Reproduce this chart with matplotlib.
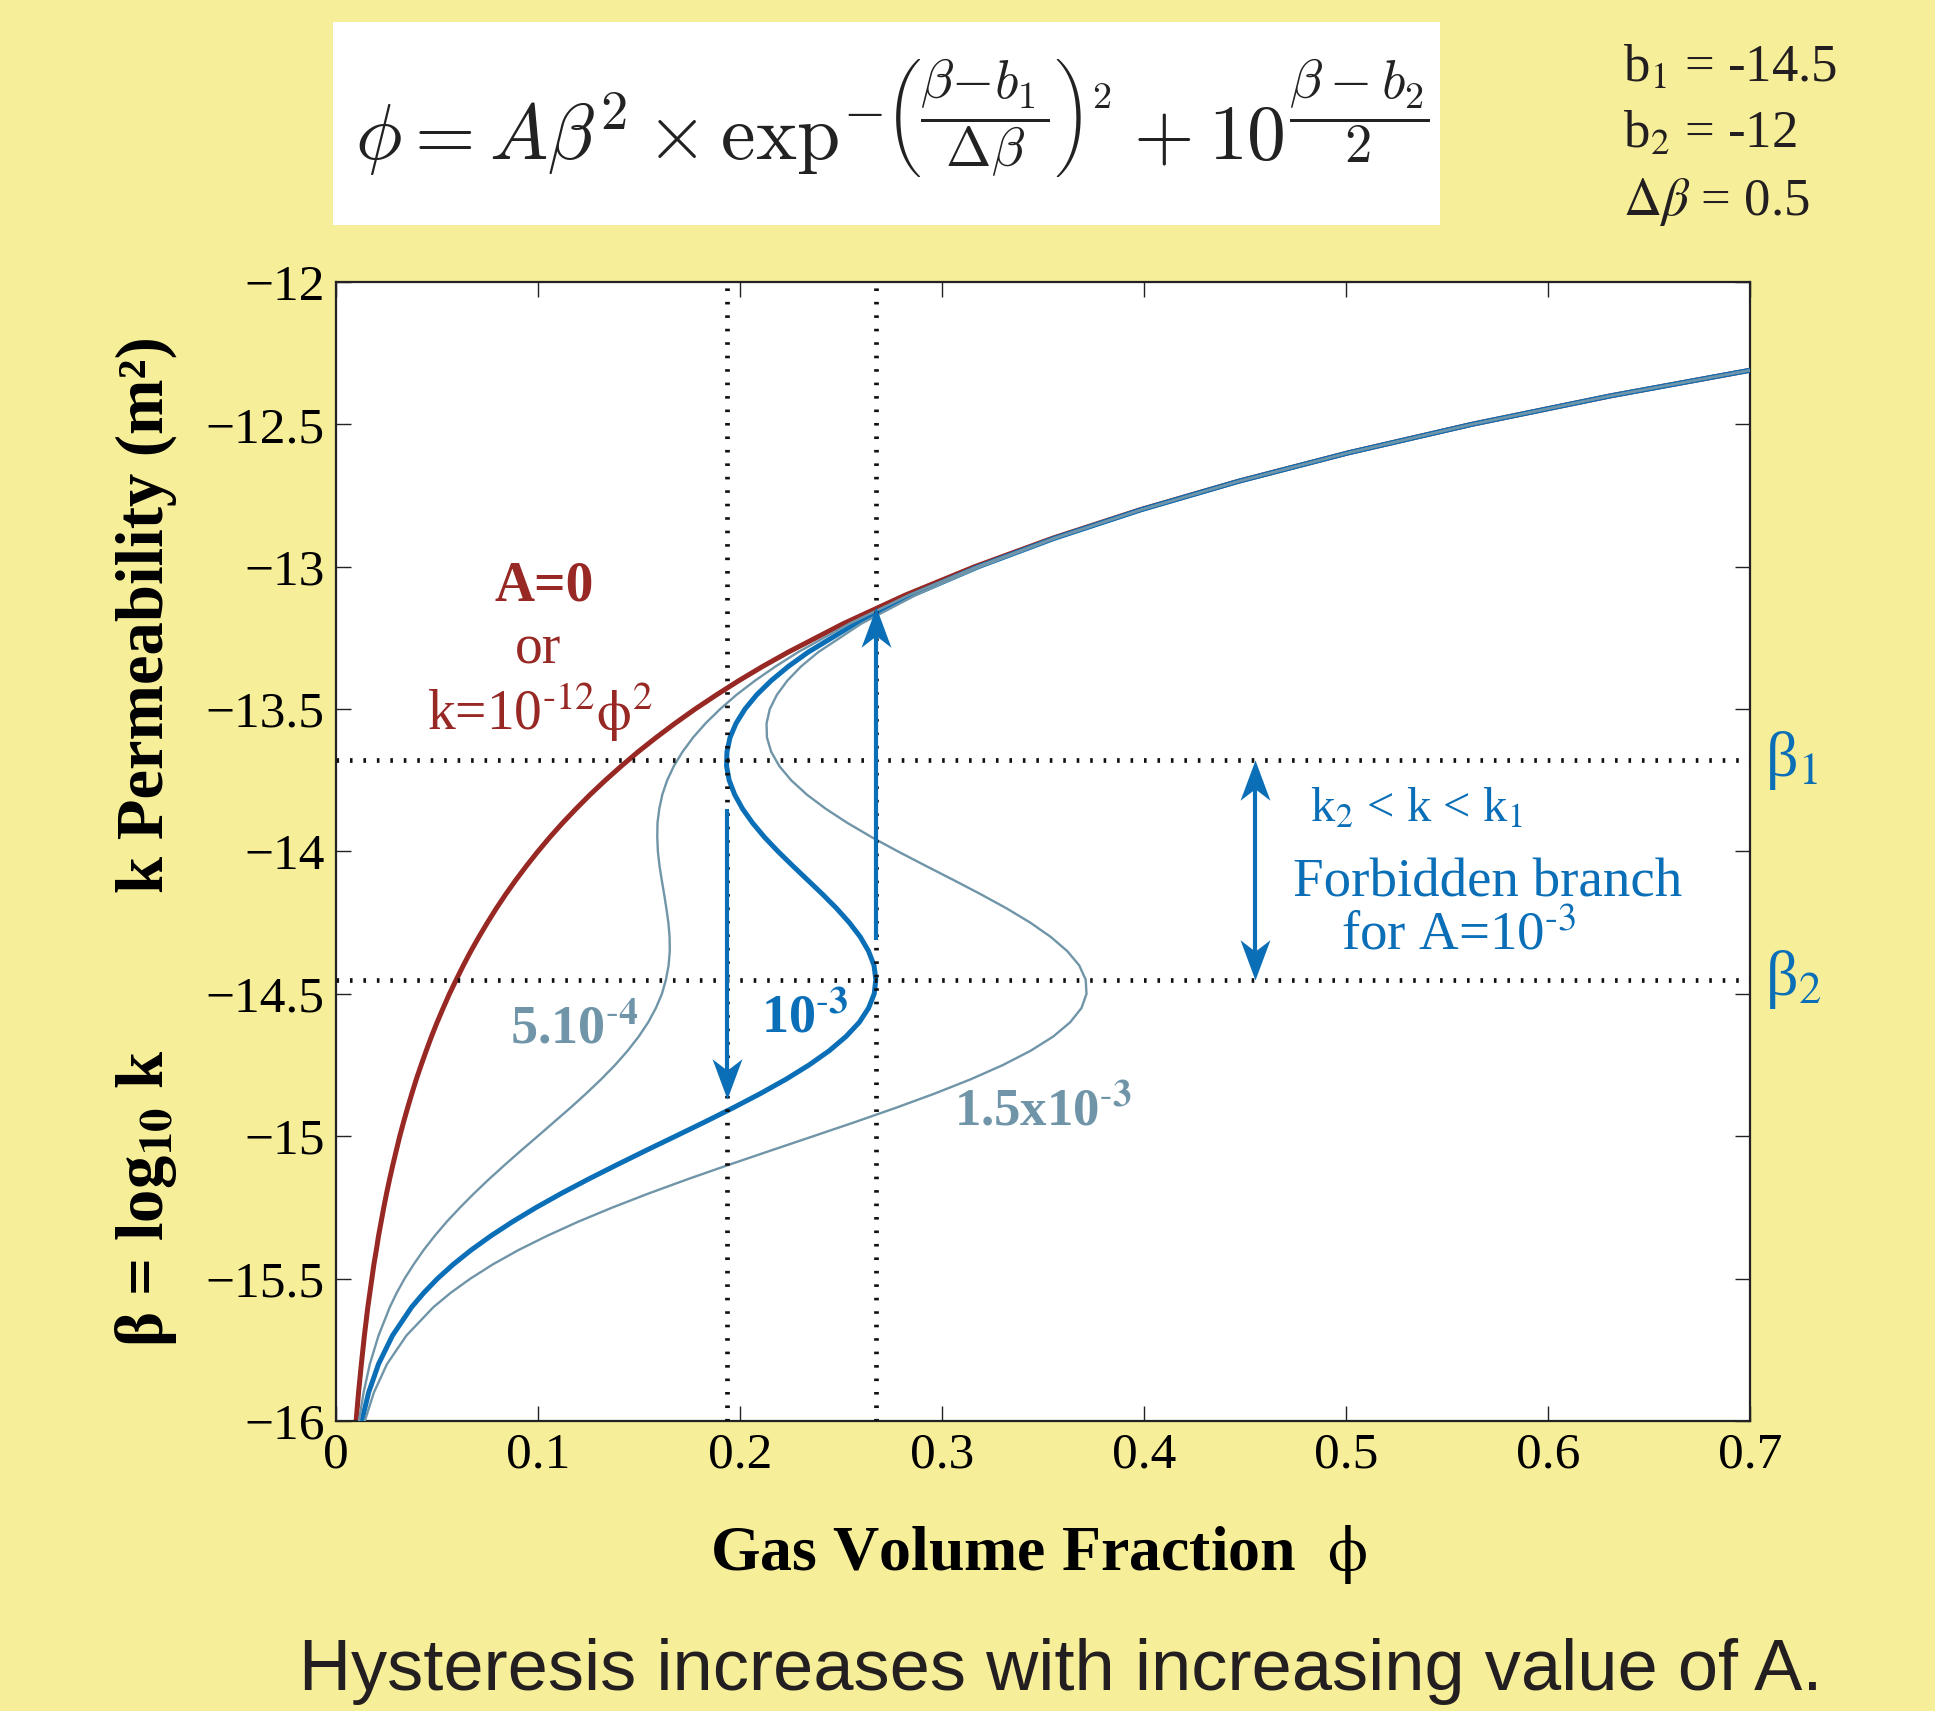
import matplotlib.pyplot as plt
from matplotlib.path import Path
from matplotlib.patches import Rectangle

# beta = log10 k, and gas volume fraction phi for each value of A
beta = [-16.0, -15.9, -15.8, -15.7, -15.6, -15.55, -15.5, -15.45, -15.4, -15.35,
        -15.3, -15.25, -15.2, -15.15, -15.1, -15.05, -15.0, -14.95, -14.9, -14.85,
        -14.8, -14.75, -14.7, -14.65, -14.6, -14.55, -14.5, -14.45, -14.4, -14.35,
        -14.3, -14.25, -14.2, -14.15, -14.1, -14.05, -14.0, -13.95, -13.9, -13.85,
        -13.8, -13.75, -13.7, -13.65, -13.6, -13.55, -13.5, -13.45, -13.4, -13.35,
        -13.3, -13.2, -13.1, -13.0, -12.9, -12.8, -12.7, -12.6, -12.5, -12.4, -12.3]

phi_a0 = [0.0100, 0.0112, 0.0126, 0.0141, 0.0158, 0.0168, 0.0178, 0.0188, 0.0200, 0.0211,
          0.0224, 0.0237, 0.0251, 0.0266, 0.0282, 0.0299, 0.0316, 0.0335, 0.0355, 0.0376,
          0.0398, 0.0422, 0.0447, 0.0473, 0.0501, 0.0531, 0.0562, 0.0596, 0.0631, 0.0668,
          0.0708, 0.0750, 0.0794, 0.0841, 0.0891, 0.0944, 0.1000, 0.1059, 0.1122, 0.1189,
          0.1259, 0.1334, 0.1413, 0.1496, 0.1585, 0.1679, 0.1778, 0.1884, 0.1995, 0.2113,
          0.2239, 0.2512, 0.2818, 0.3162, 0.3548, 0.3981, 0.4467, 0.5012, 0.5623, 0.6310, 0.7079]

phi_5e4 = [0.0114, 0.0137, 0.0168, 0.0211, 0.0267, 0.0301, 0.0340, 0.0385, 0.0434, 0.0489,
           0.0549, 0.0615, 0.0685, 0.0759, 0.0837, 0.0917, 0.0999, 0.1080, 0.1161, 0.1239,
           0.1313, 0.1382, 0.1444, 0.1499, 0.1546, 0.1584, 0.1614, 0.1634, 0.1647, 0.1653,
           0.1652, 0.1646, 0.1636, 0.1625, 0.1613, 0.1602, 0.1594, 0.1591, 0.1592, 0.1601,
           0.1616, 0.1640, 0.1673, 0.1716, 0.1768, 0.1830, 0.1902, 0.1983, 0.2075, 0.2177,
           0.2288, 0.2542, 0.2835, 0.3172, 0.3553, 0.3984, 0.4468, 0.5012, 0.5624, 0.6310, 0.7079]

phi_1e3 = [0.0128, 0.0162, 0.0211, 0.0280, 0.0375, 0.0435, 0.0503, 0.0581, 0.0669, 0.0767,
           0.0875, 0.0992, 0.1118, 0.1252, 0.1392, 0.1535, 0.1681, 0.1826, 0.1967, 0.2102,
           0.2228, 0.2342, 0.2442, 0.2525, 0.2591, 0.2637, 0.2665, 0.2673, 0.2664, 0.2637,
           0.2596, 0.2542, 0.2479, 0.2409, 0.2335, 0.2261, 0.2189, 0.2122, 0.2063, 0.2013,
           0.1974, 0.1947, 0.1934, 0.1936, 0.1951, 0.1981, 0.2025, 0.2083, 0.2155, 0.2240,
           0.2338, 0.2571, 0.2852, 0.3181, 0.3558, 0.3986, 0.4469, 0.5013, 0.5624, 0.6310, 0.7079]

phi_15e3 = [0.0143, 0.0188, 0.0253, 0.0349, 0.0483, 0.0568, 0.0666, 0.0777, 0.0903, 0.1045,
            0.1200, 0.1370, 0.1552, 0.1745, 0.1947, 0.2154, 0.2363, 0.2571, 0.2773, 0.2965,
            0.3143, 0.3302, 0.3439, 0.3551, 0.3635, 0.3691, 0.3716, 0.3712, 0.3680, 0.3621,
            0.3539, 0.3438, 0.3321, 0.3192, 0.3057, 0.2919, 0.2783, 0.2653, 0.2533, 0.2425,
            0.2331, 0.2254, 0.2195, 0.2155, 0.2134, 0.2132, 0.2148, 0.2183, 0.2235, 0.2303,
            0.2388, 0.2601, 0.2869, 0.3191, 0.3563, 0.3989, 0.4471, 0.5014, 0.5624, 0.6310, 0.7079]

# turning points of the A = 1e-3 curve
beta1, beta2 = -13.68, -14.45
phi_low, phi_high = 0.1936, 0.2673

# jumps along the hysteresis loop: (phi, from beta, to beta)
jump_down = (0.1936, -13.85, -14.87)
jump_up = (0.2673, -14.31, -13.14)
gap_phi = 0.455

xticks = [0, 0.1, 0.2, 0.3, 0.4, 0.5, 0.6, 0.7]
yticks = [-12, -12.5, -13, -13.5, -14, -14.5, -15, -15.5, -16]

red = '#972824'
blue = '#0b6fb8'
steel = '#7095a8'
yellow = '#f6ee98'
ink = '#231f20'

plt.rcParams['font.family'] = ['Liberation Serif', 'DejaVu Serif']
plt.rcParams['mathtext.fontset'] = 'stix'

fig = plt.figure(figsize=(19.35, 17.11), dpi=100, facecolor=yellow)
ax = fig.add_axes([0.1736, 0.1695, 0.7307, 0.6657])
ax.set_facecolor('white')

ax.plot(phi_a0, beta, color=red, lw=3.6, zorder=2)
ax.plot(phi_1e3, beta, color=blue, lw=3.6, zorder=3)
ax.plot(phi_5e4, beta, color=steel, lw=1.7, zorder=4)
ax.plot(phi_15e3, beta, color=steel, lw=1.7, zorder=4)

dots = dict(color='#111111', lw=3.4, linestyle=(0, (0.55, 2.3)),
            dash_capstyle='butt', zorder=5)
for b in (beta1, beta2):
    ax.axhline(b, **dots)
for p in (phi_low, phi_high):
    ax.axvline(p, **dots)

# concave arrow heads, tip at the origin
codes = [Path.MOVETO, Path.LINETO, Path.LINETO, Path.LINETO, Path.CLOSEPOLY]
head_up = Path([(0, 0), (-13, -35), (0, -25), (13, -35), (0, 0)], codes)
head_down = Path([(0, 0), (-13, 35), (0, 25), (13, 35), (0, 0)], codes)
head_ms = 58
notch = 28 / 1139 * 4  # head depth in beta units


def arrow(x, b0, b1):
    head = head_up if b1 > b0 else head_down
    end = b1 - notch if b1 > b0 else b1 + notch
    ax.plot([x, x], [b0, end], color=blue, lw=3.0, solid_capstyle='butt', zorder=6)
    ax.plot([x], [b1], marker=head, ms=head_ms, color=blue, mew=0, zorder=7)


arrow(*jump_down)
arrow(*jump_up)
ax.plot([gap_phi, gap_phi], [beta1 - notch, beta2 + notch], color=blue, lw=3.0,
        solid_capstyle='butt', zorder=6)
ax.plot([gap_phi], [beta1], marker=head_up, ms=head_ms, color=blue, mew=0, zorder=7)
ax.plot([gap_phi], [beta2], marker=head_down, ms=head_ms, color=blue, mew=0, zorder=7)

ax.set_xlim(0, 0.7)
ax.set_ylim(-16, -12)
ax.set_xticks(xticks)
ax.set_xticklabels([f'{v:g}' for v in xticks])
ax.set_yticks(yticks)
ax.set_yticklabels([f'{v:g}'.replace('-', '\u2212') for v in yticks])
ax.tick_params(direction='in', length=11, width=1, top=True, right=True,
               labelsize=37, pad=8, colors='#222222', labelcolor='black')
for s in ax.spines.values():
    s.set_linewidth(1.6)
    s.set_color('#222222')

# curve labels
ax.text(0.103, -13.07, 'A=0', color=red, fontsize=40, fontweight='bold',
        ha='center', va='center')
ax.text(0.100, -13.29, 'or', color=red, fontsize=40, ha='center', va='center')
ax.text(0.101, -13.51, r'k=10$^{\text{-12}}\mathrm{\phi}^2$', color=red, fontsize=40,
        ha='center', va='center')
ax.text(0.118, -14.63, r'5.10$^{\text{-}\mathbf{4}}$', color=steel, fontsize=39,
        fontweight='bold', ha='center', va='center')
ax.text(0.232, -14.59, r'10$^{\text{-}\mathbf{3}}$', color=blue, fontsize=39,
        fontweight='bold', ha='center', va='center')
ax.text(0.350, -14.91, r'1.5x10$^{\text{-}\mathbf{3}}$', color=steel, fontsize=38,
        fontweight='bold', ha='center', va='center')

ax.text(0.535, -13.85, r'k$_2$ < k < k$_1$', color=blue, fontsize=35,
        ha='center', va='center')
ax.text(0.570, -14.11, 'Forbidden branch', color=blue, fontsize=39.5,
        ha='center', va='center')
ax.text(0.556, -14.30, r'for A=10$^{\text{-3}}$', color=blue, fontsize=39.5,
        ha='center', va='center')

ax.text(0.7074, beta1, r'β$_1$', color=blue, fontsize=46, ha='left', va='center',
        clip_on=False)
ax.text(0.7074, beta2, r'β$_2$', color=blue, fontsize=46, ha='left', va='center',
        clip_on=False)

# axis titles
fig.text(0.0755, 0.641, 'k Permeability (m²)', rotation=90, fontsize=48,
         fontweight='bold', ha='center', va='center')
fig.text(0.0755, 0.2998, r'β = log$_{\mathbf{10}}$ k', rotation=90, fontsize=48,
         fontweight='bold', ha='center', va='center')
fig.text(0.367, 0.0824, r'Gas Volume Fraction  $\mathrm{\phi}$', fontsize=46,
         fontweight='bold', ha='left', va='baseline')

# model equation and its parameters
fig.add_artist(Rectangle((0.1721, 0.8685), 0.5721, 0.1186, transform=fig.transFigure,
                         facecolor='white', edgecolor='none'))
fig.text(0.1835, 0.9065,
         r'$\phi = A\beta^2 \times \exp^{-\left(\dfrac{\beta-b_1}{\Delta\beta}\right)^2}'
         r' + 10^{\dfrac{\beta-b_2}{2}}$',
         fontsize=56, math_fontfamily='cm', color='#222222', ha='left', va='baseline')
fig.text(0.8388, 0.952, r'b$_1$ = -14.5', fontsize=38, color=ink, ha='left', va='baseline')
fig.text(0.8388, 0.9135, r'b$_2$ = -12', fontsize=38, color=ink, ha='left', va='baseline')
fig.text(0.8388, 0.8743, r'$\Delta\beta$ = 0.5', fontsize=38, color=ink, ha='left',
         va='baseline')

fig.text(0.1545, 0.0123, 'Hysteresis increases with increasing value of A.',
         fontsize=52, family=['Liberation Sans', 'DejaVu Sans'], color=ink,
         ha='left', va='baseline')

fig.savefig('out.png', dpi=100, facecolor=yellow)
